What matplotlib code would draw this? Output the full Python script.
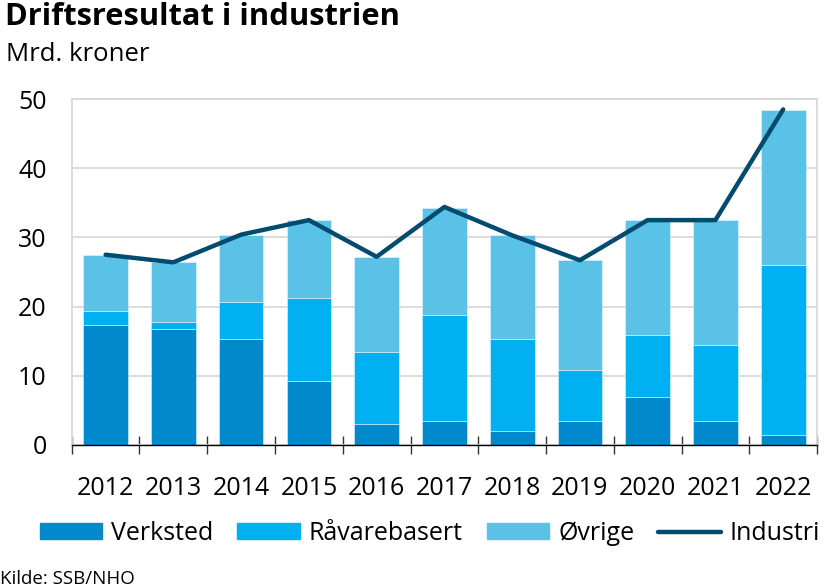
import numpy as np
import matplotlib
matplotlib.use("Agg")
import matplotlib.pyplot as plt
from matplotlib.lines import Line2D
from matplotlib.patches import Patch

# --- Data (mrd. kroner) ---
years = ["2012", "2013", "2014", "2015", "2016", "2017", "2018", "2019", "2020", "2021", "2022"]
verksted = [17.4, 16.7, 15.3, 9.2, 3.0, 3.4, 2.0, 3.4, 7.0, 3.4, 1.5]
raavare = [1.9, 1.1, 5.4, 12.0, 10.5, 15.4, 13.3, 7.5, 8.9, 11.1, 24.5]
ovrige = [8.2, 8.6, 9.7, 11.3, 13.7, 15.5, 15.1, 15.9, 16.6, 18.0, 22.4]
industri = [27.5, 26.4, 30.4, 32.5, 27.2, 34.4, 30.3, 26.7, 32.5, 32.5, 48.5]
yticks = [0, 10, 20, 30, 40, 50]

# --- Colours ---
C_VERK = "#0089CC"
C_RAA = "#00B0F0"
C_OVR = "#5BC2E7"
C_IND = "#004B6E"
C_GRID = "#D9D9D9"

plt.rcParams['font.family'] = ['Open Sans', 'DejaVu Sans']

fig = plt.figure(figsize=(8.38, 5.88), dpi=100)
ax = fig.add_axes([0.0856, 0.2432, 0.975 - 0.0856, 0.8316 - 0.2432])

x = np.arange(len(years))
w = 0.66
v = np.array(verksted)
r = np.array(raavare)
o = np.array(ovrige)
edge = dict(edgecolor=(1, 1, 1, 0.5), linewidth=0.6)
ax.bar(x, v, w, color=C_VERK, zorder=2, **edge)
ax.bar(x, r, w, bottom=v, color=C_RAA, zorder=2, **edge)
ax.bar(x, o, w, bottom=v + r, color=C_OVR, zorder=2, **edge)
ax.plot(x, industri, color=C_IND, linewidth=3.2, zorder=3, solid_capstyle='round')

ax.set_xlim(-0.5, len(years) - 0.5)
ax.set_ylim(0, 50)
ax.set_yticks(yticks)
ax.set_yticklabels([str(t) for t in yticks], fontsize=18)
ax.tick_params(axis='y', length=0, pad=18)
ax.yaxis.grid(True, color=C_GRID, linewidth=1.3, zorder=0)
ax.set_axisbelow(True)

# x: ticks at the category borders, labels at the centres
ax.set_xticks(np.arange(-0.5, len(years), 1.0))
ax.set_xticklabels([])
ax.tick_params(axis='x', which='major', length=13, width=1, direction='inout', color='#333333')
ax.set_xticks(x, minor=True)
ax.set_xticklabels(years, minor=True, fontsize=18)
ax.tick_params(axis='x', which='minor', length=0, pad=22)

for s in ['left', 'right', 'top']:
    ax.spines[s].set_color(C_GRID)
    ax.spines[s].set_linewidth(1.3)
ax.spines['bottom'].set_color('black')
ax.spines['bottom'].set_linewidth(1.0)
ax.spines['bottom'].set_zorder(4)

fig.text(0.006, 0.997, "Driftsresultat i industrien", fontsize=22.2, fontweight='bold', va='top', ha='left')
fig.text(0.007, 0.928, "Mrd. kroner", fontsize=18.5, va='top', ha='left')
fig.text(0.0, 0.0, "Kilde: SSB/NHO", fontsize=13.5, va='bottom', ha='left')

handles = [Patch(color=C_VERK), Patch(color=C_RAA), Patch(color=C_OVR),
           Line2D([0], [0], color=C_IND, linewidth=3.2, solid_capstyle='round')]
labels = ["Verksted", "Råvarebasert", "Øvrige", "Industri"]
fig.legend(handles, labels, loc='center', bbox_to_anchor=(0.513, 0.093), ncol=4, frameon=False,
           fontsize=18, handlelength=2.5, handleheight=0.56, handletextpad=0.36, columnspacing=0.95,
           borderpad=0, borderaxespad=0)

fig.savefig("out.png", dpi=100)
